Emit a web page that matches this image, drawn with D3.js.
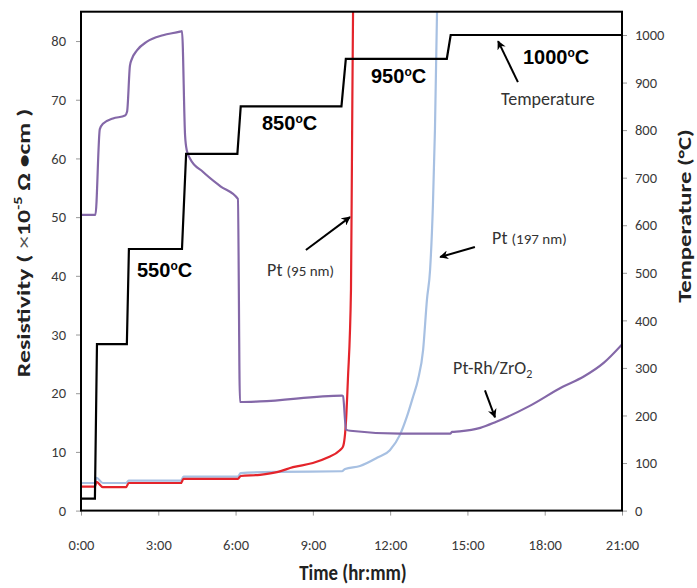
<!DOCTYPE html>
<html><head><meta charset="utf-8">
<script src="https://cdn.jsdelivr.net/npm/d3@7"></script>
<style>
body{margin:0;background:#fff;}
svg{display:block;}
text{font-family:Carlito, Lato, "Open Sans", sans-serif;}
</style></head><body>
<svg id="chart" width="697" height="588"></svg>
<script>
// ---------- data ----------
const timeTicks = [0, 3, 6, 9, 12, 15, 18, 21];
const timeTickLabels = ["0:00", "3:00", "6:00", "9:00", "12:00", "15:00", "18:00", "21:00"];
const resistivityTicks = [0, 10, 20, 30, 40, 50, 60, 70, 80];
const temperatureTicks = [0, 100, 200, 300, 400, 500, 600, 700, 800, 900, 1000];

// Temperature (°C, right axis)
const tempTime  = [0, 0.54, 0.62, 1.78, 1.86, 3.92, 4.08, 6.07, 6.2, 10.11, 10.28, 14.2, 14.35, 21];
const tempValue = [25, 25, 350, 350, 550, 550, 750, 750, 850, 850, 950, 950, 1000, 1000];

// Pt-Rh/ZrO2 (resistivity, left axis)
const ptrhTime  = [0, 0.56, 0.73, 0.85, 1.24, 1.71, 1.79, 1.9, 1.98, 2.17, 2.56, 3.18, 3.84, 3.92, 4.04, 4.11, 4.23, 4.74, 5.4, 6.09, 6.17, 6.95, 10.13, 10.17, 10.29, 10.45, 12.38, 14.33, 14.4, 14.7, 15.5, 16.1, 17.4, 18.7, 19.5, 20.3, 21.0];
const ptrhValue = [50.4, 50.4, 65, 65.9, 66.8, 67.3, 68, 75.8, 77, 78.4, 79.9, 81, 81.6, 81.7, 63.9, 61.3, 60, 57.7, 55.3, 53.1, 18.5, 18.6, 19.6, 19.5, 13.8, 13.6, 13.1, 13.1, 13.4, 13.5, 14.1, 15.1, 17.8, 21.1, 22.8, 25.2, 28.3];

// Pt (95 nm)
const pt95Time  = [0, 0.54, 0.6, 0.85, 1.75, 1.85, 3.88, 3.98, 6.09, 6.2, 6.95, 7.65, 8.23, 9.0, 9.55, 10.05, 10.17, 10.29, 10.36, 10.48, 10.52, 10.56, 10.6];
const pt95Value = [4.1, 4.1, 4.9, 4.0, 4.0, 4.7, 4.7, 5.4, 5.4, 5.9, 6.1, 6.6, 7.4, 8.1, 9.0, 10.3, 10.9, 15.5, 22.3, 37.7, 61.6, 85, 92];

// Pt (197 nm)
const pt197Time  = [0, 0.54, 0.6, 0.85, 1.75, 1.85, 3.88, 3.98, 6.09, 6.2, 7.65, 10.13, 10.25, 10.83, 11.49, 11.99, 12.38, 12.65, 12.89, 13.08, 13.28, 13.43, 13.55, 13.66, 13.74, 13.82, 13.86];
const pt197Value = [4.7, 4.7, 5.6, 4.7, 4.7, 5.1, 5.1, 5.8, 5.8, 6.4, 6.6, 6.7, 7.1, 7.6, 9.0, 10.3, 12.9, 16.0, 19.4, 22.3, 27.4, 36, 41, 52, 65, 85, 92];

// ---------- layout ----------
const svg = d3.select("#chart");
const L = 81, R = 622, T = 11.7, B = 510.6;

const x = d3.scaleLinear().domain([0, 21]).range([L, R]);
const yL = d3.scaleLinear().domain([0, 85]).range([B, T]);
const yR = d3.scaleLinear().domain([0, 1049]).range([B, T]);

const defs = svg.append("defs");
defs.append("clipPath").attr("id", "plotclip")
  .append("rect").attr("x", L).attr("y", T).attr("width", R - L).attr("height", B - T);
defs.append("marker").attr("id", "arrow").attr("viewBox", "0 0 10 10")
  .attr("refX", 9).attr("refY", 5).attr("markerWidth", 9).attr("markerHeight", 9)
  .attr("markerUnits", "userSpaceOnUse").attr("orient", "auto")
  .append("path").attr("d", "M0,0 L10,5 L0,10 L3,5 Z").attr("fill", "#000");

const tickColor = "#3a3a3a";

// axes
const gLeft = svg.append("g").attr("transform", `translate(${L},0)`)
  .call(d3.axisLeft(yL).tickValues(resistivityTicks).tickSize(5).tickSizeOuter(0).tickPadding(10));
const gRight = svg.append("g").attr("transform", `translate(${R},0)`)
  .call(d3.axisRight(yR).tickValues(temperatureTicks).tickSize(5).tickSizeOuter(0).tickPadding(8)
  .tickFormat(d3.format("d")));
const gBottom = svg.append("g").attr("transform", `translate(0,${B})`)
  .call(d3.axisBottom(x).tickValues(timeTicks).tickSize(5).tickSizeOuter(0).tickPadding(24)
  .tickFormat((d, i) => timeTickLabels[i]));
[gLeft, gRight, gBottom].forEach(g => {
  g.select(".domain").remove();
  g.selectAll(".tick line").attr("stroke", "#999").attr("stroke-width", 1);
  g.selectAll(".tick text").attr("fill", tickColor).style("font-size", "14.5px")
    .style("font-family", "Carlito, Lato, sans-serif");
});

// series
const plot = svg.append("g").attr("clip-path", "url(#plotclip)");
const lineL = d3.line().x(d => x(d[0])).y(d => yL(d[1])).curve(d3.curveMonotoneX);
const lineT = d3.line().x(d => x(d[0])).y(d => yR(d[1]));

const zip = (a, b) => a.map((v, i) => [v, b[i]]);
plot.append("path").datum(zip(pt197Time, pt197Value)).attr("d", lineL)
  .attr("fill", "none").attr("stroke", "#a7c0e2").attr("stroke-width", 2.2);
plot.append("path").datum(zip(pt95Time, pt95Value)).attr("d", lineL)
  .attr("fill", "none").attr("stroke", "#e4242b").attr("stroke-width", 2.2);
plot.append("path").datum(zip(ptrhTime, ptrhValue)).attr("d", lineL)
  .attr("fill", "none").attr("stroke", "#8468a8").attr("stroke-width", 2.2);
plot.append("path").datum(zip(tempTime, tempValue)).attr("d", lineT)
  .attr("fill", "none").attr("stroke", "#000").attr("stroke-width", 2.2);

// frame
svg.append("rect").attr("x", L).attr("y", T).attr("width", R - L).attr("height", B - T)
  .attr("fill", "none").attr("stroke", "#000").attr("stroke-width", 2);

// temperature labels
function tempLabel(px, py, num) {
  const t = svg.append("text").attr("x", px).attr("y", py)
    .style("font-family", "'Liberation Sans', Arial, sans-serif")
    .style("font-weight", "bold").style("font-size", "20px").attr("fill", "#000");
  t.append("tspan").text(num);
  t.append("tspan").text("o").style("font-size", "12px").attr("dy", -7);
  t.append("tspan").text("C").attr("dy", 7);
}
tempLabel(137, 277, "550");
tempLabel(262, 130, "850");
tempLabel(371, 83, "950");
tempLabel(523, 64, "1000");

// annotations
const annFont = "Carlito, Lato, sans-serif";
svg.append("text").attr("x", 501).attr("y", 105).text("Temperature")
  .style("font-size", "18px").style("font-family", annFont).attr("fill", "#333");

let t1 = svg.append("text").attr("x", 267).attr("y", 276).style("font-family", annFont).attr("fill", "#333");
t1.append("tspan").text("Pt ").style("font-size", "18px");
t1.append("tspan").text("(95 nm)").style("font-size", "15px");

let t2 = svg.append("text").attr("x", 492).attr("y", 244).style("font-family", annFont).attr("fill", "#333");
t2.append("tspan").text("Pt ").style("font-size", "18px");
t2.append("tspan").text("(197 nm)").style("font-size", "15px");

let t3 = svg.append("text").attr("x", 453).attr("y", 374).style("font-family", annFont)
  .style("font-size", "18px").attr("fill", "#333");
t3.append("tspan").text("Pt-Rh/ZrO");
t3.append("tspan").text("2").style("font-size", "12px").attr("dy", 4);

// arrows (data coordinates)
const arrowsTemp = [[16.96, 901, 16.19, 987]];
const arrowsRes = [[8.73, 44.4, 10.44, 50.0], [15.29, 44.9, 13.94, 43.2], [15.68, 20.5, 16.07, 15.9]];
arrowsTemp.forEach(a => svg.append("line")
  .attr("x1", x(a[0])).attr("y1", yR(a[1])).attr("x2", x(a[2])).attr("y2", yR(a[3]))
  .attr("stroke", "#000").attr("stroke-width", 2).attr("marker-end", "url(#arrow)"));
arrowsRes.forEach(a => svg.append("line")
  .attr("x1", x(a[0])).attr("y1", yL(a[1])).attr("x2", x(a[2])).attr("y2", yL(a[3]))
  .attr("stroke", "#000").attr("stroke-width", 2).attr("marker-end", "url(#arrow)"));

// axis titles
const yt = svg.append("text").attr("transform", "translate(30,243) rotate(-90) scale(1.36,1)")
  .attr("text-anchor", "middle").style("font-family", annFont).style("font-size", "19px")
  .style("font-weight", "600").attr("fill", "#222");
yt.append("tspan").text("Resistivity ( ");
yt.append("tspan").text("×").style("font-weight", "normal").attr("fill", "#555");
yt.append("tspan").text("10");
yt.append("tspan").text("-5").style("font-size", "12px").attr("dy", -8);
yt.append("tspan").text(" Ω •cm )").attr("dy", 8);

svg.append("text").attr("transform", "translate(691,216) rotate(-90) scale(1.3,1)")
  .attr("text-anchor", "middle").style("font-family", annFont).style("font-size", "19px")
  .style("font-weight", "600").attr("fill", "#222").text("Temperature  (°C)");

svg.append("text").attr("transform", "translate(353,580) scale(0.82,1)").attr("text-anchor", "middle")
  .style("font-family", annFont).style("font-size", "23px").style("font-weight", "600")
  .attr("fill", "#222").text("Time (hr:mm)");
</script>
</body></html>
